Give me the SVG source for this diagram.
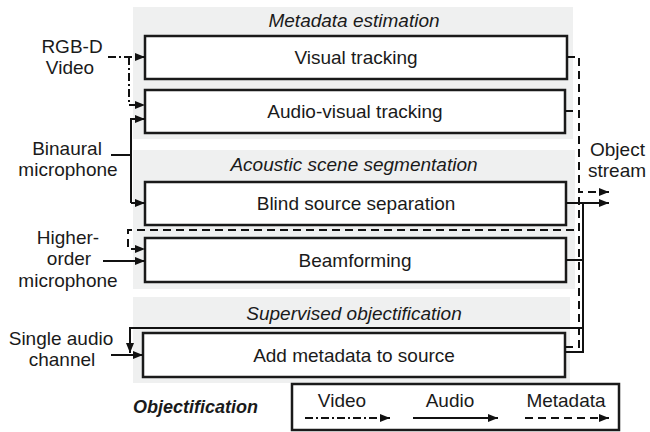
<svg xmlns="http://www.w3.org/2000/svg" width="650" height="432" viewBox="0 0 650 432">
  <defs>
    <marker id="arr" viewBox="0 0 10 8" refX="10" refY="4" markerWidth="10" markerHeight="8" markerUnits="userSpaceOnUse" orient="auto">
      <path d="M0,0 L10,4 L0,8 Z" fill="#111"/>
    </marker>
    <style>
      .panel { fill: #eff0f0; }
      .box { fill: #fff; stroke: #1a1a1a; stroke-width: 2.5; }
      .t { font-family: "Liberation Sans", Arial, sans-serif; font-size: 19px; fill: #1a1a1a; }
      .c { text-anchor: middle; }
      .hdr { font-style: italic; }
      .title { font-size: 18px; font-weight: bold; font-style: italic; }
      .audio { fill: none; stroke: #111; stroke-width: 2; }
      .video { fill: none; stroke: #111; stroke-width: 2; stroke-dasharray: 8 3 2 3; }
      .meta { fill: none; stroke: #111; stroke-width: 2; stroke-dasharray: 8 5; }
    </style>
  </defs>

  <!-- section panels -->
  <rect class="panel" x="133" y="7" width="440" height="132"/>
  <rect class="panel" x="133" y="150" width="442" height="139"/>
  <rect class="panel" x="133" y="297" width="437" height="86"/>

  <!-- section headings -->
  <text class="t c hdr" x="354" y="27">Metadata estimation</text>
  <text class="t c hdr" x="354" y="171">Acoustic scene segmentation</text>
  <text class="t c hdr" x="354" y="320">Supervised objectification</text>

  <!-- processing blocks -->
  <g id="visual-tracking">
    <rect class="box" x="145" y="36" width="422" height="43"/>
    <text class="t c" x="356" y="64">Visual tracking</text>
  </g>
  <g id="audio-visual-tracking">
    <rect class="box" x="145" y="90" width="420" height="43"/>
    <text class="t c" x="355" y="118">Audio-visual tracking</text>
  </g>
  <g id="blind-source-separation">
    <rect class="box" x="145" y="182" width="421" height="43"/>
    <text class="t c" x="356" y="210">Blind source separation</text>
  </g>
  <g id="beamforming">
    <rect class="box" x="145" y="238" width="421" height="44"/>
    <text class="t c" x="355" y="267">Beamforming</text>
  </g>
  <g id="add-metadata">
    <rect class="box" x="143" y="333" width="422" height="44"/>
    <text class="t c" x="354" y="362">Add metadata to source</text>
  </g>

  <!-- inputs -->
  <g id="rgbd-video">
    <text class="t c" x="72" y="53">RGB-D</text>
    <text class="t c" x="70" y="74">Video</text>
  </g>
  <g id="binaural-microphone">
    <text class="t c" x="67" y="155">Binaural</text>
    <text class="t c" x="68" y="176">microphone</text>
  </g>
  <g id="hoa-microphone">
    <text class="t c" x="68" y="244">Higher-</text>
    <text class="t c" x="69" y="265">order</text>
    <text class="t c" x="68" y="287">microphone</text>
  </g>
  <g id="single-channel">
    <text class="t c" x="61" y="345">Single audio</text>
    <text class="t c" x="62" y="366">channel</text>
  </g>

  <!-- output -->
  <g id="object-stream">
    <text class="t" x="590" y="156">Object</text>
    <text class="t" x="588" y="177">stream</text>
  </g>

  <!-- connectors -->
  <g id="connectors">
    <!-- video -->
    <path class="video" d="M108,57 H145" marker-end="url(#arr)"/>
    <path class="video" d="M129,57 V105 H145" marker-end="url(#arr)"/>
    <!-- binaural audio -->
    <path class="audio" d="M111,155 H131" stroke-width="3"/>
    <path class="audio" d="M131,203 V119 H145" marker-end="url(#arr)"/>
    <path class="audio" d="M131,203 H145" marker-end="url(#arr)"/>
    <!-- higher-order microphone audio -->
    <path class="audio" d="M103,261 H145" marker-end="url(#arr)"/>
    <!-- metadata fed back to beamforming -->
    <path class="meta" d="M574,230 H128 V249 H145" marker-end="url(#arr)"/>
    <!-- single audio channel -->
    <path class="audio" d="M111,355 H143" marker-end="url(#arr)"/>
    <!-- audio fed back to supervised objectification -->
    <path class="audio" d="M583,328 H130 V353" marker-end="url(#arr)"/>
    <!-- metadata outputs -->
    <path class="meta" d="M567,57 H579 V192 H609" marker-end="url(#arr)"/>
    <path class="meta" d="M565,111 H579"/>
    <path class="meta" d="M565,347 H579 V192"/>
    <!-- audio outputs -->
    <path class="audio" d="M566,203 H609" marker-end="url(#arr)"/>
    <path class="audio" d="M583,203 V352 H565"/>
    <path class="audio" d="M566,260 H583"/>
  </g>

  <!-- objectification legend -->
  <g id="legend">
    <text class="t title" x="133" y="413">Objectification</text>
    <rect x="292" y="384" width="327" height="46" fill="#fff" stroke="#1a1a1a" stroke-width="2.5"/>
    <text class="t c" x="342" y="407">Video</text>
    <path class="video" d="M305,418 H390" marker-end="url(#arr)"/>
    <text class="t c" x="450" y="407">Audio</text>
    <path class="audio" d="M413,418 H498" marker-end="url(#arr)"/>
    <text class="t c" x="566" y="407">Metadata</text>
    <path class="meta" d="M525,418 H609" marker-end="url(#arr)"/>
  </g>
</svg>
